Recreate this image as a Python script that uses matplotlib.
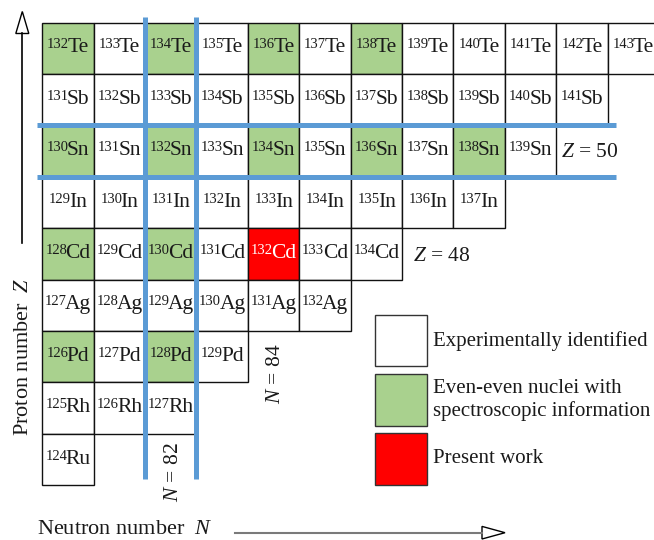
import matplotlib
matplotlib.use("Agg")
import matplotlib.pyplot as plt
from matplotlib.patches import Rectangle, Polygon
from matplotlib.offsetbox import TextArea, HPacker, AnnotationBbox

plt.rcParams['font.family'] = ['Liberation Serif', 'DejaVu Serif']
plt.rcParams['mathtext.fontset'] = 'custom'
plt.rcParams['mathtext.rm'] = 'Liberation Serif'
plt.rcParams['mathtext.it'] = 'Liberation Serif:italic'

# Isotope chains: element symbol, proton number and mass-number range
elements = ["Te", "Sb", "Sn", "In", "Cd", "Ag", "Pd", "Rh", "Ru"]
proton_numbers = [52, 51, 50, 49, 48, 47, 46, 45, 44]
lightest_mass = [132, 131, 130, 129, 128, 127, 126, 125, 124]
heaviest_mass = [143, 141, 139, 137, 134, 132, 129, 127, 124]

# Even-even nuclei with known spectroscopy, and the nucleus of this work
spectroscopic = ["132Te", "134Te", "136Te", "138Te",
                 "130Sn", "132Sn", "134Sn", "136Sn", "138Sn",
                 "128Cd", "130Cd", "126Pd", "128Pd"]
present_work = ["132Cd"]

magic_N = 82
magic_Z = 50
marked_N = 84
marked_Z = 48

legend_labels = ["Experimentally identified",
                 "Even-even nuclei with\nspectroscopic information",
                 "Present work"]

WHITE = "#FFFFFF"
GREEN = "#A9D18E"
RED = "#FF0000"
BLUE = "#5B9BD5"
INK = "#1a1a1a"

W, H = 654, 540
CELL = 51.4          # cell size in pixels
X0, Y0 = 42.3, 22.7  # top-left corner of the N=80, Z=52 cell

fig = plt.figure(figsize=(W / 100, H / 100), dpi=100)
ax = fig.add_axes([0, 0, 1, 1])
ax.set_xlim(79.5 - X0 / CELL, 79.5 + (W - X0) / CELL)
ax.set_ylim(52.5 - (H - Y0) / CELL, 52.5 + Y0 / CELL)
ax.axis("off")


def nuclide_label(N, Z, A, sym, color):
    mass = TextArea(str(A), textprops=dict(fontsize=10.5, color=color))
    symbol = TextArea(sym, textprops=dict(fontsize=15.5, color=color))
    pack = HPacker(children=[mass, symbol], align="top", pad=0, sep=-1.2)
    ab = AnnotationBbox(pack, (N, Z), xycoords="data", frameon=False,
                        box_alignment=(0.5, 0.47), pad=0, zorder=3)
    ax.add_artist(ab)


# Nuclide cells
for sym, Z, a_lo, a_hi in zip(elements, proton_numbers, lightest_mass, heaviest_mass):
    for A in range(a_lo, a_hi + 1):
        N = A - Z
        key = f"{A}{sym}"
        if key in present_work:
            fc, tc = RED, "white"
        elif key in spectroscopic:
            fc, tc = GREEN, INK
        else:
            fc, tc = WHITE, INK
        ax.add_patch(Rectangle((N - 0.5, Z - 0.5), 1, 1, facecolor=fc,
                               edgecolor="#111111", lw=1.0, zorder=1))
        nuclide_label(N, Z, A, sym, tc)

# Magic-number shell closures
for xv in (magic_N - 0.5, magic_N + 0.5):
    ax.plot([xv, xv], [43.62, 52.62], color=BLUE, lw=3.6,
            solid_capstyle="butt", zorder=4)
for yv in (magic_Z - 0.5, magic_Z + 0.5):
    ax.plot([79.39, 90.66], [yv, yv], color=BLUE, lw=3.6,
            solid_capstyle="butt", zorder=4)

ax.text(89.59, magic_Z - 0.02, rf"$Z$ = {magic_Z}", ha="left", va="center",
        fontsize=15.5, color=INK)
ax.text(86.71, marked_Z - 0.04, rf"$Z$ = {marked_Z}", ha="left", va="center",
        fontsize=15.5, color=INK)
ax.text(82.06, 43.76, rf"$N$ = {magic_N}", ha="center", va="center",
        rotation=90, fontsize=15.5, color=INK)
ax.text(84.03, 45.67, rf"$N$ = {marked_N}", ha="center", va="center",
        rotation=90, fontsize=15.5, color=INK)

# Legend
legend_colors = [WHITE, GREEN, RED]
box_left = 85.98
box_tops = [46.813, 45.660, 44.512]
for fc, top, lab in zip(legend_colors, box_tops, legend_labels):
    ax.add_patch(Rectangle((box_left, top - 1.0), 1.0, 1.0, facecolor=fc,
                           edgecolor="#333333", lw=1.0))
    ax.text(87.095, top - 0.5, lab, ha="left", va="center", fontsize=15,
            linespacing=1.22, color=INK)


def fig_xy(px, py):
    return px / W, 1 - py / H


# Axis arrows
ax_line_v = [fig_xy(22.3, 243), fig_xy(22.3, 33)]
fig.add_artist(plt.Line2D([p[0] for p in ax_line_v], [p[1] for p in ax_line_v],
                          transform=fig.transFigure, color="black", lw=1.2))
fig.add_artist(Polygon([fig_xy(22.3, 11.5), fig_xy(15.8, 33.5), fig_xy(28.8, 33.5)],
                       closed=True, transform=fig.transFigure, facecolor="white",
                       edgecolor="black", lw=1.0))

ax_line_h = [fig_xy(235, 532.7), fig_xy(482, 532.7)]
fig.add_artist(plt.Line2D([p[0] for p in ax_line_h], [p[1] for p in ax_line_h],
                          transform=fig.transFigure, color="#7a7a7a", lw=1.5))
fig.add_artist(Polygon([fig_xy(505, 532.7), fig_xy(482, 526.4), fig_xy(482, 539)],
                       closed=True, transform=fig.transFigure, facecolor="white",
                       edgecolor="black", lw=1.0))

fig.text(24 / W, 1 - 357 / H, r"Proton number  $Z$", rotation=90, ha="center",
         va="center", fontsize=16, color=INK)
fig.text(37 / W, 1 - 530 / H, r"Neutron number  $N$", ha="left", va="center",
         fontsize=16, color=INK)

fig.savefig("out.png", dpi=100)
